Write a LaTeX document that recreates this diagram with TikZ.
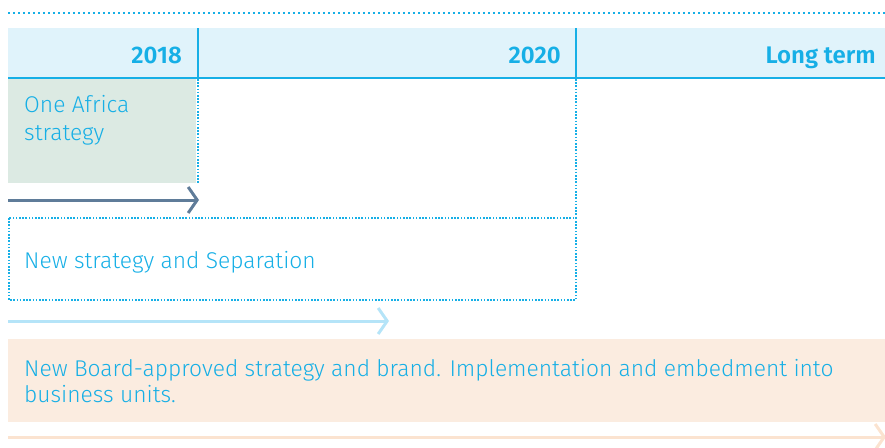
\documentclass[tikz,border=0pt]{standalone}
\usepackage{fontspec}
\setmainfont{Fira Sans Light}[BoldFont=Fira Sans SemiBold]
\usetikzlibrary{arrows.meta}
\definecolor{cy}{HTML}{16AFE6}
\definecolor{hdr}{HTML}{E0F3FB}
\definecolor{grn}{HTML}{DCEAE3}
\definecolor{slate}{HTML}{5F7C99}
\definecolor{lblue}{HTML}{B5E4F8}
\definecolor{peach}{HTML}{FBECE0}
\definecolor{peachar}{HTML}{FBE3D0}
\tikzset{
  dots/.style={cy, line width=1.6pt, dash pattern=on 1.6pt off 3.4pt},
  densedots/.style={cy, line width=1.6pt, dash pattern=on 1.6pt off 1.6pt},
  yr/.style={font=\fontsize{24}{26}\selectfont\bfseries, text=cy, anchor=base east, inner sep=0pt},
  txt/.style={text=cy, anchor=base west, inner sep=0pt, align=left},
  tl/.style={line width=3pt, -{Straight Barb[length=9pt,width=26pt]}},
}
\begin{document}
\begin{tikzpicture}[x=1pt,y=-1pt]
\useasboundingbox (0,0) rectangle (885,447);
% top dotted rule
\coordinate (t1) at (8,13);
\coordinate (t2) at (885,13);
\draw[dots] (t1) -- (t2);
% header band
\fill[hdr] (8,28) rectangle (885,78);
\draw[cy, line width=1.8pt] (8,78) -- (885,78);
\draw[cy, line width=1.2pt] (198,28) -- (198,78);
\draw[cy, line width=1.2pt] (576,28) -- (576,78);
\node[yr] (y2018) at (182,63) {2018};
\node[yr] (y2020) at (561,63) {2020};
\node[yr] (ylt) at (876,63) {Long term};
% One Africa box
\fill[grn] (8,79) rectangle (196,183);
\node[txt, font=\fontsize{22.8}{28}\selectfont] (oa) at (24,140) {One Africa\\strategy};
\draw[densedots] (198,79) -- (198,183);
% dark arrow
\coordinate (a1s) at (8,200);
\coordinate (a1e) at (199,200);
\draw[tl, slate] (a1s) -- (a1e);
% new strategy box
\draw[densedots] (9,218) rectangle (576,300);
\draw[densedots] (576,79) -- (576,218);
\node[txt, font=\fontsize{22.8}{28}\selectfont] (ns) at (24,268) {New strategy and Separation};
% light arrow
\coordinate (a2s) at (8,321);
\coordinate (a2e) at (389,321);
\draw[tl, lblue] (a2s) -- (a2e);
% peach box
\fill[peach] (8,339) rectangle (885,422);
\node[txt, font=\fontsize{22.8}{26}\selectfont] (nb) at (24,402) {New Board-approved strategy and brand. Implementation and embedment into\\business units.};
% peach arrow
\coordinate (a3s) at (8,437);
\coordinate (a3e) at (886,437);
\draw[tl, peachar] (a3s) -- (a3e);
\end{tikzpicture}
\end{document}
